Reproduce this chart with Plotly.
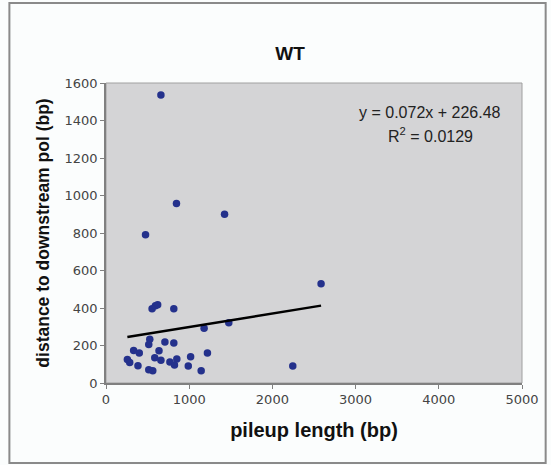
import plotly.graph_objects as go

# Data
pileup_length = [660, 847, 1425, 475, 2585, 554, 594, 621, 815, 1476, 1179, 526, 514,
                 708, 815, 332, 400, 637, 1219, 257, 285, 384, 586, 660, 768, 851,
                 823, 1017, 989, 514, 562, 1144, 2245]
distance = [1536, 958, 900, 791, 530, 396, 412, 418, 396, 322, 292, 233, 206,
            219, 213, 174, 160, 172, 160, 126, 110, 92, 135, 121, 112, 128,
            96, 140, 91, 71, 66, 66, 91]
slope = 0.072
intercept = 226.48
r_squared = "0.0129"
x_ticks = [0, 1000, 2000, 3000, 4000, 5000]
y_ticks = [0, 200, 400, 600, 800, 1000, 1200, 1400, 1600]

trend_x = [min(pileup_length), max(pileup_length)]
trend_y = [slope * v + intercept for v in trend_x]

fig = go.Figure()
fig.add_trace(go.Scatter(
    x=pileup_length, y=distance, mode="markers",
    marker=dict(color="#24318c", size=7.5, line=dict(width=0)),
    showlegend=False, hoverinfo="skip"))
fig.add_trace(go.Scatter(
    x=trend_x, y=trend_y, mode="lines",
    line=dict(color="#000000", width=2.5),
    showlegend=False, hoverinfo="skip"))

fig.update_layout(
    width=551, height=465,
    margin=dict(l=106, r=23, t=83, b=82),
    paper_bgcolor="#fbfdfd",
    plot_bgcolor="#d4d4d6",
    font=dict(family="Liberation Sans, Arial, sans-serif", color="#333333"),
    title=dict(text="<b>WT</b>", x=290 / 551, xanchor="center",
               y=1 - 53 / 465, yanchor="middle",
               font=dict(size=19, color="#111111")),
    xaxis=dict(range=[0, 5000], tickvals=x_ticks, ticks="outside", ticklen=4,
               tickcolor="#808080", showline=True, linecolor="#808080",
               linewidth=1.5, showgrid=False, zeroline=False, mirror=False,
               tickfont=dict(size=13, color="#444444", family="DejaVu Sans"),
               title=dict(text="<b>pileup length (bp)</b>", standoff=17,
                          font=dict(size=20, color="#111111"))),
    yaxis=dict(range=[0, 1600], tickvals=y_ticks, ticks="outside", ticklen=4,
               tickcolor="#808080", showline=True, linecolor="#808080",
               linewidth=1.5, showgrid=False, zeroline=False,
               tickfont=dict(size=13, color="#444444", family="DejaVu Sans"),
               title=dict(text="<b>distance to downstream pol (bp)</b>", standoff=10,
                          font=dict(size=17.5, color="#111111"))),
    shapes=[
        dict(type="rect", xref="paper", yref="paper", x0=0, x1=1, y0=0, y1=1,
             line=dict(color="#a0a0a0", width=1), fillcolor="rgba(0,0,0,0)", layer="below"),
        dict(type="rect", xref="paper", yref="paper",
             x0=(8 - 106) / 422, x1=(552 - 106) / 422,
             y0=-(463 - 383) / 300, y1=1 + (83 - 3) / 300,
             line=dict(color="#8a8a8a", width=2), fillcolor="rgba(0,0,0,0)"),
    ],
    annotations=[
        dict(text=f"y = {slope}x + {intercept}", xref="paper", yref="paper",
             x=(435 - 106) / 422, y=(383 - 112) / 300, showarrow=False,
             font=dict(size=16, color="#222222"), xanchor="center", yanchor="middle"),
        dict(text=f"R<sup>2</sup> = {r_squared}", xref="paper", yref="paper",
             x=(435 - 106) / 422, y=(383 - 135) / 300, showarrow=False,
             font=dict(size=16, color="#222222"), xanchor="center", yanchor="middle"),
    ],
)

fig.write_html("out.html")
